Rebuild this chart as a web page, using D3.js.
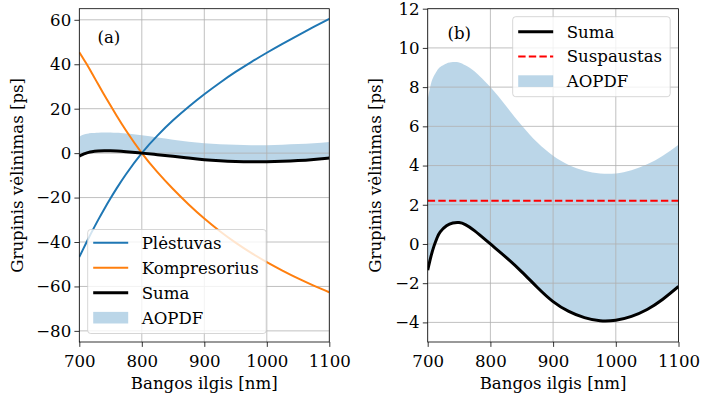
<!DOCTYPE html>
<html>
<head>
<meta charset="utf-8">
<script src="https://cdn.jsdelivr.net/npm/d3@7"></script>
<style>
  html, body { margin: 0; padding: 0; background: #fff; }
  svg { display: block; }
</style>
</head>
<body>
<svg id="chart" width="701" height="396"></svg>
<script>
// Wavelength grid [nm]
const wavelengths = [700, 705, 710, 715, 720, 730, 740, 750, 760, 775, 800, 825, 850, 875, 900, 925, 950, 975, 1000, 1025, 1050, 1075, 1100];
// Group delay of the stretcher [ps]
const plestuvas = [-46.75, -43.85, -41.0, -38.2, -35.45, -30.15, -25.1, -20.3, -15.75, -9.38, 0, 7.88, 14.75, 20.88, 26.5, 31.7, 36.53, 40.98, 45.18, 49.18, 53.05, 56.8, 60.45];
// Group delay of the compressor [ps]
const kompresorius = [45.41, 43.19, 40.89, 38.52, 36.07, 31.08, 26.17, 21.39, 16.74, 10.05, 0, -8.56, -16.17, -23.1, -29.44, -35.14, -40.29, -44.9, -49.07, -52.87, -56.39, -59.62, -62.62];
// Residual group delay (stretcher + compressor) [ps]
const suma = [-1.34, -0.66, -0.11, 0.32, 0.62, 0.93, 1.07, 1.09, 0.99, 0.67, 0.0, -0.68, -1.42, -2.22, -2.94, -3.44, -3.76, -3.92, -3.89, -3.69, -3.34, -2.82, -2.17];
// Upper edge of the AOPDF delay window [ps]
const aopdfTop = [7.37, 8.15, 8.58, 8.85, 9.03, 9.21, 9.28, 9.26, 9.12, 8.8, 8.0, 7.04, 6.04, 5.17, 4.5, 4.03, 3.74, 3.6, 3.6, 3.76, 4.06, 4.5, 5.06];
// Compressed pulse delay [ps]
const suspaustas = 2.2;

const xTicks = [700, 800, 900, 1000, 1100];
const yTicksA = [-80, -60, -40, -20, 0, 20, 40, 60];
const yTicksB = [-4, -2, 0, 2, 4, 6, 8, 10, 12];

const C0 = "#1f77b4", C1 = "#ff7f0e";
const FONT = "DejaVu Serif";
const FS = 16.6;

const svg = d3.select("#chart");

const rows = wavelengths.map((w, i) => ({
  w, p: plestuvas[i], k: kompresorius[i], s: suma[i], top: aopdfTop[i]
}));

function label(sel) {
  return sel.attr("font-family", FONT).attr("font-size", FS).attr("fill", "#000");
}

function panel(opts) {
  const x = d3.scaleLinear().domain([700, 1100]).range([opts.left, opts.right]);
  const y = d3.scaleLinear().domain(opts.yDomain).range([opts.bottom, opts.top]);
  const g = svg.append("g");
  const clipId = "clip-" + opts.name;
  svg.append("clipPath").attr("id", clipId).append("rect")
    .attr("x", opts.left).attr("y", opts.top)
    .attr("width", opts.right - opts.left).attr("height", opts.bottom - opts.top);
  const plot = g.append("g").attr("clip-path", `url(#${clipId})`);

  // AOPDF window
  plot.append("path").datum(rows)
    .attr("fill", C0).attr("fill-opacity", 0.3)
    .attr("d", d3.area().curve(d3.curveNatural)
      .x(d => x(d.w)).y0(d => y(d.s)).y1(d => y(d.top)));

  // grid
  const grid = plot.append("g").attr("stroke", "#b0b0b0").attr("stroke-width", 0.8);
  xTicks.forEach(t => grid.append("line")
    .attr("x1", x(t)).attr("x2", x(t)).attr("y1", opts.top).attr("y2", opts.bottom));
  opts.yTicks.forEach(t => grid.append("line")
    .attr("x1", opts.left).attr("x2", opts.right).attr("y1", y(t)).attr("y2", y(t)));

  const line = key => d3.line().curve(d3.curveNatural).x(d => x(d.w)).y(d => y(d[key]));
  opts.draw(plot, x, y, line);

  // axes
  const xa = g.append("g").attr("transform", `translate(0,${opts.bottom})`)
    .call(d3.axisBottom(x).tickValues(xTicks).tickSize(4.9).tickFormat(d3.format("d")));
  const ya = g.append("g").attr("transform", `translate(${opts.left},0)`)
    .call(d3.axisLeft(y).tickValues(opts.yTicks).tickSize(4.9).tickPadding(3.2)
      .tickFormat(d => d < 0 ? "\u2212" + Math.abs(d) : String(d)));
  [xa, ya].forEach(a => {
    a.attr("font-family", null).attr("font-size", null);
    a.select(".domain").remove();
    a.selectAll("line").attr("stroke", "#000").attr("stroke-width", 0.8);
    label(a.selectAll("text"));
  });
  xa.selectAll("text").attr("y", 25.3).attr("dy", null);

  // frame
  g.append("rect").attr("x", opts.left).attr("y", opts.top)
    .attr("width", opts.right - opts.left).attr("height", opts.bottom - opts.top)
    .attr("fill", "none").attr("stroke", "#000").attr("stroke-width", 0.8);

  // axis titles
  label(g.append("text")).attr("x", (opts.left + opts.right) / 2).attr("y", 389)
    .attr("text-anchor", "middle").text("Bangos ilgis [nm]");
  label(g.append("text"))
    .attr("transform", `translate(${opts.ylabelX},${(opts.top + opts.bottom) / 2}) rotate(-90)`)
    .attr("text-anchor", "middle").attr("dy", "0.35em")
    .text("Grupinis vėlinimas [ps]");

  // panel tag
  label(g.append("text")).attr("x", opts.tag.x).attr("y", opts.tag.y).attr("dy", "0.35em")
    .text(opts.tag.text);

  // legend
  const L = opts.legend;
  const lg = g.append("g");
  lg.append("rect").attr("x", L.x).attr("y", L.y).attr("width", L.w).attr("height", L.h)
    .attr("rx", 3).attr("fill", "#fff").attr("fill-opacity", 0.8)
    .attr("stroke", "#cccccc").attr("stroke-width", 0.8);
  L.items.forEach((it, i) => {
    const cy = L.y + L.first + i * L.step;
    const hx = L.x + 5.5;
    if (it.type === "patch") {
      lg.append("rect").attr("x", hx).attr("y", cy - 5.8).attr("width", 35).attr("height", 11.6)
        .attr("fill", C0).attr("fill-opacity", 0.3);
    } else {
      lg.append("line").attr("x1", hx).attr("x2", hx + 35).attr("y1", cy).attr("y2", cy)
        .attr("stroke", it.color).attr("stroke-width", it.width)
        .attr("stroke-dasharray", it.dash || null);
    }
    label(lg.append("text")).attr("x", hx + 48.5).attr("y", cy).attr("dy", "0.35em")
      .text(it.label);
  });
}

// (a) stretcher, compressor and their sum
panel({
  name: "a", left: 79.3, right: 329.3, top: 8.7, bottom: 342,
  yDomain: [-85, 65], yTicks: yTicksA, ylabelX: 17,
  tag: { x: 97.5, y: 37.5, text: "(a)" },
  draw: (plot, x, y, line) => {
    plot.append("path").datum(rows).attr("fill", "none").attr("stroke", C0)
      .attr("stroke-width", 2).attr("d", line("p"));
    plot.append("path").datum(rows).attr("fill", "none").attr("stroke", C1)
      .attr("stroke-width", 2).attr("d", line("k"));
    plot.append("path").datum(rows).attr("fill", "none").attr("stroke", "#000")
      .attr("stroke-width", 3).attr("d", line("s"));
  },
  legend: {
    x: 87.7, y: 229.5, w: 178.5, h: 104, first: 13.2, step: 25,
    items: [
      { label: "Plėstuvas", color: C0, width: 2 },
      { label: "Kompresorius", color: C1, width: 2 },
      { label: "Suma", color: "#000", width: 3 },
      { label: "AOPDF", type: "patch" }
    ]
  }
});

// (b) residual delay inside the AOPDF window
panel({
  name: "b", left: 427.7, right: 678.5, top: 8.7, bottom: 342,
  yDomain: [-5, 12], yTicks: yTicksB, ylabelX: 375.5,
  tag: { x: 447.5, y: 33.5, text: "(b)" },
  draw: (plot, x, y, line) => {
    plot.append("path").datum(rows).attr("fill", "none").attr("stroke", "#000")
      .attr("stroke-width", 3).attr("d", line("s"));
    plot.append("line").attr("x1", x(700)).attr("x2", x(1100))
      .attr("y1", y(suspaustas)).attr("y2", y(suspaustas))
      .attr("stroke", "red").attr("stroke-width", 2).attr("stroke-dasharray", "7.4,3.2");
  },
  legend: {
    x: 512.7, y: 16.7, w: 157.5, h: 80, first: 15, step: 24.7,
    items: [
      { label: "Suma", color: "#000", width: 3 },
      { label: "Suspaustas", color: "red", width: 2, dash: "7.4,3.2" },
      { label: "AOPDF", type: "patch" }
    ]
  }
});
</script>
</body>
</html>
